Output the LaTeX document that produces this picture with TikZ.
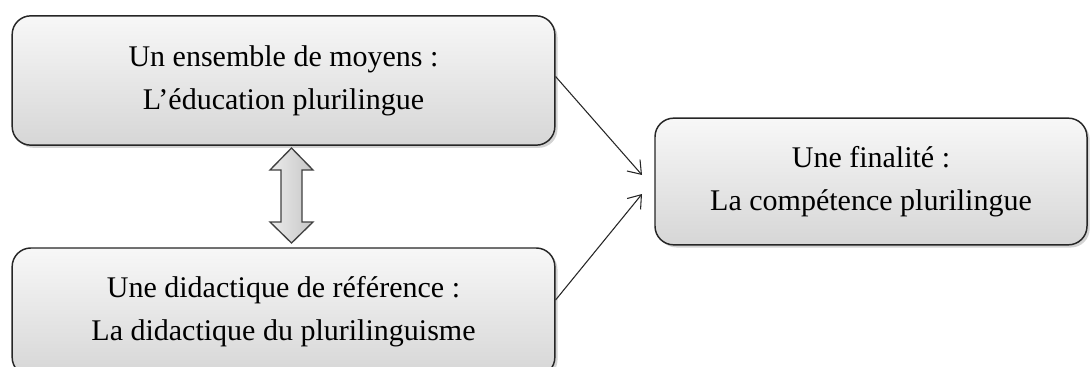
\documentclass[tikz,border=0pt]{standalone}
\usepackage{fontspec}
\setmainfont{Liberation Serif}
\usetikzlibrary{shadows,arrows.meta}

\tikzset{
  boite/.style={draw=black!85, line width=1.1pt, rounded corners=14pt,
    top color=gray!6, bottom color=gray!32, drop shadow={opacity=0.35, shadow xshift=2pt, shadow yshift=-2pt},
    align=center, font=\fontsize{22.5}{32}\selectfont, inner sep=0pt},
  fleche/.style={-{Straight Barb[length=9pt,width=13pt]}, line width=0.8pt, black!85}
}

\begin{document}
\begin{tikzpicture}[x=0.75pt,y=-0.75pt]

\useasboundingbox (0,0) rectangle (1091,367);

\def\doublefleche{(291.5,148) -- (313,170) -- (302,170) -- (302,222) -- (313,222) -- (291.5,243) -- (270,222) -- (281,222) -- (281,170) -- (270,170) -- cycle}

\node[boite, minimum width=407pt, minimum height=97pt] (moyens) at (283.5,80.5)
  {Un ensemble de moyens :\\ L’éducation plurilingue};
\node[boite, minimum width=407pt, minimum height=96pt] (didactique) at (283.5,312)
  {Une didactique de référence :\\ La didactique du plurilinguisme};
\node[boite, minimum width=324pt, minimum height=95pt] (finalite) at (871,181.5)
  {Une finalité :\\ La compétence plurilingue};

\shade[left color=gray!15, right color=gray!45, draw=black!75, line width=1pt] \doublefleche;

\coordinate (bouthaut) at (642,175);
\coordinate (boutbas) at (642,194);
\draw[fleche] (moyens.east) ++(0,-4) -- (bouthaut);
\draw[fleche] (didactique.east) ++(0,-12) -- (boutbas);

\end{tikzpicture}
\end{document}
